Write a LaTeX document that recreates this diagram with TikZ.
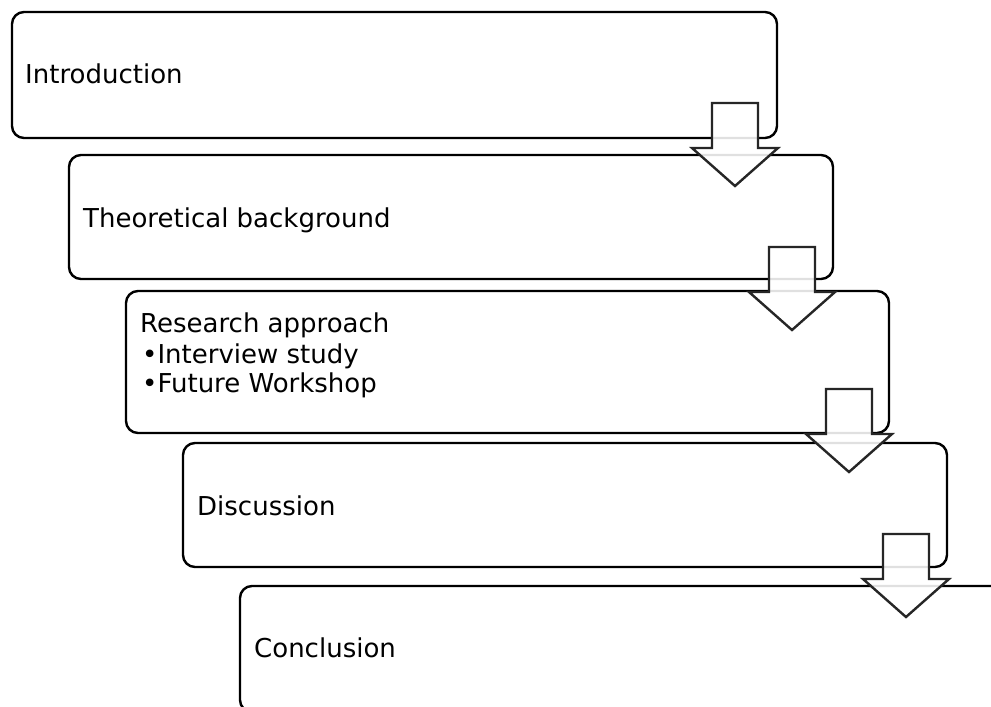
\documentclass[tikz,border=0pt]{standalone}
\usepackage{fontspec}
\setmainfont{DejaVu Sans}
\begin{document}
\begin{tikzpicture}[x=1pt,y=-1pt,
  box/.style={draw=black, line width=2.4pt, rounded corners=12pt, fill=white},
  lbl/.style={anchor=base west, inner sep=0pt, font=\fontsize{26}{30}\selectfont, text=black},
  blockarr/.style={draw=black!85, line width=2.4pt, fill=white, fill opacity=0.88, line join=miter}]
\useasboundingbox (0,0) rectangle (991,707);
\clip (0,0) rectangle (991,707);
% boxes
\draw[box] (12,12) rectangle (777,138);
\draw[box] (69,155) rectangle (833,279);
\draw[box] (126,291) rectangle (889,433);
\draw[box] (183,443) rectangle (947,567);
\draw[box] (240,586) rectangle (1004,712);
% labels
\node[lbl] (t1) at (25,83) {Introduction};
\node[lbl] (t2) at (83,227) {Theoretical background};
\node[lbl] (t3) at (140,332) {Research approach};
\node[lbl] (t3a) at (142,363) {•Interview study};
\node[lbl] (t3b) at (142,392) {•Future Workshop};
\node[lbl] (t4) at (197,515) {Discussion};
\node[lbl] (t5) at (254,657) {Conclusion};
% arrows
\coordinate (a1) at (735,103);
\coordinate (a2) at (792,247);
\coordinate (a3) at (849,389);
\coordinate (a4) at (906,534);
\foreach \c in {a1,a2,a3,a4}{
  \draw[blockarr, shift={(\c)}] (-23,0) -- (23,0) -- (23,45) -- (43,45) -- (0,83) -- (-43,45) -- (-23,45) -- cycle;
}
\end{tikzpicture}
\end{document}
